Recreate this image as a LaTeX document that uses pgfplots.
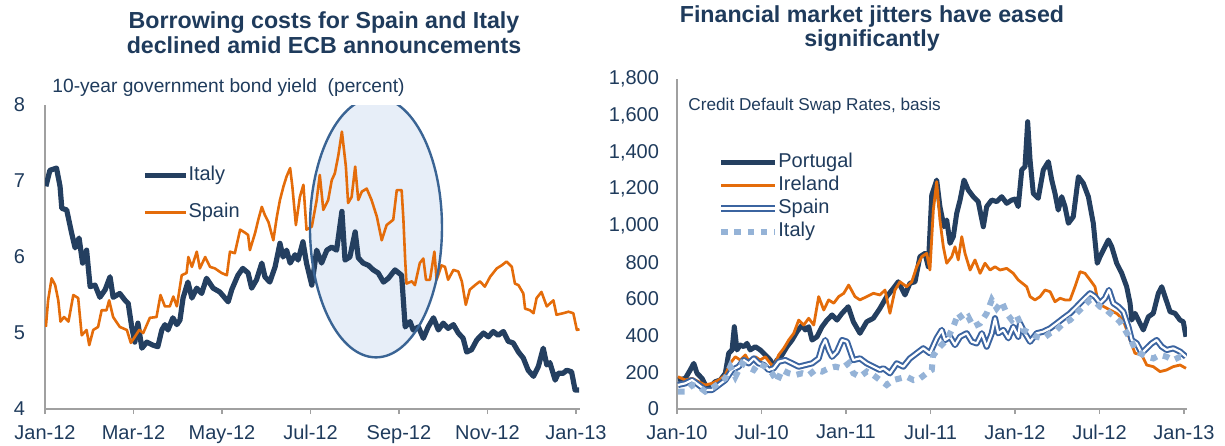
\documentclass[border=0pt]{standalone}
\usepackage{fontspec}
\setmainfont{Liberation Sans}
\usepackage{pgfplots}
\pgfplotsset{compat=1.18}
\definecolor{navy}{HTML}{243F60}
\definecolor{orng}{HTML}{E46C0A}
\definecolor{spblue}{HTML}{3B64A0}
\definecolor{ltblue}{HTML}{95B3D7}
\definecolor{txt}{HTML}{1F3B5C}
\definecolor{axgray}{HTML}{A0A0A0}
\definecolor{ellfill}{HTML}{E7EEF8}
\definecolor{ellline}{HTML}{3A6494}

\pgfplotsset{
  cdsaxis/.style={
    scale only axis,
    axis x line=bottom, axis y line=left,
    axis line style={-, axgray, line width=0.6pt},
    tick align=outside,
    xtick style={axgray, line width=0.6pt},
    major tick length=2.5pt,
    ytick style={draw=none},
    tick label style={font=\fontsize{10}{12}\selectfont, text=txt},
    /pgf/number format/assume math mode=true,
    /pgf/number format/1000 sep={,},
    xticklabel style={yshift=-2pt},
    legend cell align=left,
    legend image code/.code={\draw[#1] (0pt,0pt) -- (20.5pt,0pt);},
    legend style={draw=none, fill=none, inner sep=0pt,
      font=\fontsize{10}{12}\selectfont, text=txt,
      nodes={inner sep=0pt, text height=7.2pt, text depth=2pt},
      /tikz/every even column/.append style={column sep=1.5pt}},
  },
}

\begin{document}
\begin{tikzpicture}
\path[use as bounding box] (0,0) rectangle (612.5pt,222.5pt);

% titles
\node[anchor=base, text=txt, font=\fontsize{11.6}{13}\selectfont\bfseries] at (162pt,208pt) {Borrowing costs for Spain and Italy};
\node[anchor=base, text=txt, font=\fontsize{11.6}{13}\selectfont\bfseries] at (162pt,195.5pt) {declined amid ECB announcements};
\node[anchor=base west, inner sep=0pt, text=txt, font=\fontsize{9.6}{11}\selectfont] at (26pt,176pt) {10-year government bond yield\ \ (percent)};

\node[anchor=base, text=txt, font=\fontsize{11.6}{13}\selectfont\bfseries] at (436pt,211pt) {Financial market jitters have eased};
\node[anchor=base, text=txt, font=\fontsize{11.6}{13}\selectfont\bfseries] at (436pt,199pt) {significantly};
\node[anchor=base west, inner sep=0pt, text=txt, font=\fontsize{8.6}{10}\selectfont] at (344pt,167pt) {Credit Default Swap Rates, basis};

% ---------------- left: bond yields ----------------
\begin{axis}[cdsaxis,
  at={(22.5pt,18pt)}, anchor=south west,
  width=267.7pt, height=152pt,
  xmin=0, xmax=12.1, ymin=4, ymax=8,
  xtick={0,2,4,6,8,10,12},
  xticklabels={Jan-12,Mar-12,May-12,Jul-12,Sep-12,Nov-12,Jan-13},
  ytick={4,5,6,7,8},
  yticklabel style={xshift=-4pt},
  legend style={at={(0.181,0.80)}, anchor=north west, row sep=9.3pt},
]
\fill[ellfill] (axis cs:7.48,6.39) ellipse [x radius=33pt, y radius=65pt];
\addplot[navy, line width=2.6pt, line join=round] coordinates {
(0.02,6.93) (0.11,7.14) (0.26,7.17) (0.34,6.93) (0.38,6.64) (0.49,6.62)
(0.60,6.32) (0.68,6.12) (0.77,6.25) (0.85,5.92) (0.94,6.09) (1.02,5.61)
(1.13,5.63) (1.24,5.47) (1.36,5.57) (1.47,5.74) (1.54,5.47) (1.69,5.52)
(1.81,5.43) (1.88,5.39) (1.96,5.08) (2.03,4.88) (2.10,5.13) (2.19,4.80)
(2.30,4.88) (2.44,4.84) (2.55,4.82) (2.64,5.04) (2.71,5.11) (2.78,5.04)
(2.89,5.20) (2.98,5.11) (3.05,5.17) (3.12,5.46) (3.23,5.67) (3.32,5.46)
(3.43,5.59) (3.54,5.52) (3.65,5.72) (3.80,5.59) (3.95,5.54) (4.14,5.41)
(4.22,5.57) (4.36,5.76) (4.47,5.85) (4.59,5.79) (4.67,5.59) (4.78,5.70)
(4.90,5.92) (4.97,5.74) (5.08,5.67) (5.20,5.87) (5.31,6.18) (5.38,6.00)
(5.46,6.09) (5.54,5.92) (5.65,6.03) (5.72,5.96) (5.83,6.20) (5.91,5.92)
(6.03,5.63) (6.14,6.09) (6.25,5.92) (6.37,6.09) (6.48,6.13) (6.59,6.09)
(6.71,6.60) (6.78,5.96) (6.89,6.00) (7.01,6.33) (7.08,5.99) (7.19,5.92)
(7.31,5.89) (7.42,5.83) (7.53,5.79) (7.65,5.67) (7.76,5.72) (7.91,5.83)
(8.06,5.76) (8.14,5.08) (8.25,5.15) (8.32,5.04) (8.44,5.08) (8.55,4.93)
(8.66,5.08) (8.78,5.20) (8.89,5.04) (9.00,5.13) (9.11,5.06) (9.23,5.11)
(9.34,5.00) (9.45,4.93) (9.53,4.75) (9.64,4.78) (9.76,4.91) (9.91,5.00)
(10.02,4.95) (10.13,5.02) (10.24,4.97) (10.36,5.02) (10.47,4.89) (10.58,4.87)
(10.70,4.75) (10.81,4.67) (10.92,4.51) (11.04,4.43) (11.15,4.56) (11.26,4.80)
(11.34,4.58) (11.41,4.61) (11.53,4.38) (11.60,4.47) (11.71,4.47) (11.79,4.51)
(11.90,4.49) (11.98,4.25) (12.07,4.25)
};
\addlegendentry{Italy}
\addplot[orng, line width=1.3pt, line join=round] coordinates {
(0.02,5.08) (0.07,5.43) (0.15,5.72) (0.23,5.63) (0.30,5.43) (0.35,5.15)
(0.43,5.21) (0.53,5.15) (0.64,5.50) (0.75,5.46) (0.83,4.97) (0.94,5.04)
(1.00,4.84) (1.09,5.04) (1.20,5.08) (1.28,5.30) (1.39,5.30) (1.45,5.43)
(1.54,5.21) (1.69,5.08) (1.85,5.04) (1.94,4.87) (2.03,4.95) (2.13,5.04)
(2.22,5.00) (2.37,5.20) (2.52,5.21) (2.61,5.50) (2.71,5.35) (2.82,5.35)
(2.90,5.48) (2.98,5.35) (3.09,5.76) (3.20,5.79) (3.24,6.00) (3.32,5.87)
(3.43,6.07) (3.50,5.85) (3.62,6.00) (3.73,5.87) (3.84,5.85) (3.99,5.79)
(4.11,5.76) (4.18,6.07) (4.29,6.05) (4.41,6.36) (4.52,6.32) (4.59,6.29)
(4.63,6.09) (4.75,6.32) (4.82,6.49) (4.90,6.66) (4.97,6.55) (5.05,6.46)
(5.16,6.22) (5.24,6.53) (5.31,6.75) (5.39,6.93) (5.46,7.06) (5.54,7.17)
(5.59,6.93) (5.67,6.42) (5.76,6.79) (5.84,6.95) (5.91,6.36) (6.03,6.40)
(6.14,6.75) (6.21,7.08) (6.29,6.62) (6.40,6.75) (6.48,7.01) (6.55,7.10)
(6.63,7.34) (6.71,7.65) (6.80,7.19) (6.85,6.71) (6.93,6.79) (7.01,7.19)
(7.08,6.75) (7.16,6.86) (7.27,6.90) (7.38,6.75) (7.50,6.53) (7.61,6.22)
(7.72,6.42) (7.87,6.49) (7.95,6.88) (8.06,6.88) (8.10,6.49) (8.14,5.96)
(8.17,5.65) (8.29,5.68) (8.36,5.63) (8.47,5.92) (8.55,5.98) (8.61,5.70)
(8.70,5.70) (8.80,6.07) (8.85,5.70) (8.96,5.89) (9.04,5.87) (9.11,5.70)
(9.23,5.83) (9.34,5.81) (9.42,5.68) (9.51,5.37) (9.60,5.57) (9.72,5.63)
(9.83,5.68) (9.94,5.61) (10.06,5.74) (10.21,5.85) (10.32,5.89) (10.43,5.94)
(10.55,5.87) (10.62,5.65) (10.70,5.63) (10.81,5.52) (10.85,5.32) (10.96,5.30)
(11.04,5.26) (11.11,5.46) (11.22,5.54) (11.34,5.35) (11.49,5.43) (11.56,5.24)
(11.71,5.26) (11.83,5.28) (11.94,5.26) (12.02,5.04) (12.08,5.05)
};
\addlegendentry{Spain}
\draw[ellline, line width=1.2pt] (axis cs:7.48,6.39) ellipse [x radius=33pt, y radius=65pt];
\end{axis}

% ---------------- right: CDS ----------------
\begin{axis}[cdsaxis,
  at={(338.5pt,18pt)}, anchor=south west,
  width=254.9pt, height=165pt,
  xmin=0, xmax=36.2, ymin=0, ymax=1800,
  xtick={0,6,12,18,24,30,36},
  xticklabels={Jan-10,Jul-10,Jan-11,Jul-11,Jan-12,Jul-12,Jan-13},
  ytick={0,200,...,1800},
  yticklabel style={xshift=-3pt},
  legend image code/.code={\draw[#1] (0pt,0pt) -- (27pt,0pt);},
  legend style={at={(0.080,0.776)}, anchor=north west, row sep=2.3pt},
]
\addplot[navy, line width=2.5pt, line join=round] coordinates {
(0.07,158) (0.59,167) (0.94,213) (1.19,249) (1.42,195) (1.78,167) (2.01,131)
(2.36,122) (2.72,149) (3.07,158) (3.43,195) (3.67,304) (3.91,322) (4.07,449)
(4.26,322) (4.49,349) (4.74,340) (4.97,358) (5.20,322) (5.56,340) (5.91,322)
(6.27,295) (6.62,267) (6.87,231) (7.10,267) (7.46,295) (7.81,340) (8.17,376)
(8.52,422) (8.88,458) (9.11,431) (9.35,449) (9.59,376) (9.94,394) (10.30,449)
(10.65,485) (11.01,513) (11.36,485) (11.72,522) (12.16,558) (12.52,476)
(12.99,413) (13.47,476) (13.94,495) (14.41,549) (14.89,613) (15.36,658)
(15.71,694) (16.19,622) (16.54,686) (16.90,694) (17.25,831) (17.61,849)
(17.84,776) (18.09,1167) (18.44,1249) (18.67,1104) (18.96,994) (19.15,1031)
(19.39,904) (19.62,940) (19.86,1067) (20.10,1140) (20.38,1249) (20.68,1195)
(21.04,1158) (21.39,1131) (21.75,994) (21.99,1104) (22.35,1140) (22.70,1131)
(23.06,1158) (23.41,1122) (23.77,1140) (24.00,1145) (24.23,1104) (24.48,1304)
(24.71,1322) (24.90,1567) (25.07,1358) (25.30,1176) (25.65,1149) (26.01,1304)
(26.37,1349) (26.61,1249) (26.84,1176) (27.07,1085) (27.32,1158) (27.55,1104)
(27.79,1013) (28.14,1049) (28.50,1267) (28.85,1231) (29.21,1158) (29.56,1013)
(29.84,795) (30.04,831) (30.39,885) (30.63,922) (30.87,885) (31.22,795)
(31.58,740) (31.93,667) (32.17,577) (32.29,485) (32.52,522) (32.76,485)
(33.11,431) (33.47,503) (33.82,522) (34.18,631) (34.42,667) (34.65,613)
(35.01,531) (35.36,522) (35.72,485) (35.95,476) (36.14,394)
};
\addlegendentry{Portugal}
\addplot[orng, line width=1.4pt, line join=round] coordinates {
(0.07,176) (0.59,158) (1.07,167) (1.54,149) (2.01,131) (2.49,140) (2.96,158)
(3.43,185) (3.78,249) (4.14,285) (4.49,267) (4.85,295) (5.20,249) (5.56,285)
(5.91,267) (6.27,285) (6.62,249) (6.87,231) (7.22,295) (7.58,331) (7.93,376)
(8.29,413) (8.64,485) (9.00,458) (9.35,495) (9.71,458) (10.06,613) (10.42,540)
(10.77,595) (11.13,577) (11.48,613) (11.84,631) (12.19,676) (12.64,613)
(12.99,595) (13.47,613) (13.94,631) (14.41,622) (14.77,649) (15.12,522)
(15.48,649) (15.83,694) (16.31,667) (16.67,694) (17.02,776) (17.38,831)
(17.73,849) (17.96,758) (18.20,1085) (18.44,1240) (18.67,1031) (18.91,885)
(19.15,795) (19.51,831) (19.74,885) (19.97,813) (20.22,940) (20.45,849)
(20.81,758) (21.16,813) (21.52,740) (21.87,795) (22.23,758) (22.58,776)
(22.94,758) (23.41,767) (23.88,740) (24.23,704) (24.83,667) (25.07,613)
(25.42,595) (25.78,613) (26.13,649) (26.49,640) (26.84,585) (27.20,604)
(27.55,595) (27.91,595) (28.26,667) (28.62,749) (28.97,740) (29.33,704)
(29.68,667) (29.92,577) (30.27,560) (30.75,540) (31.24,520) (31.69,485)
(32.17,376) (32.52,304) (33.00,295) (33.35,240) (33.82,231) (34.30,204)
(34.77,213) (35.24,231) (35.72,240) (36.14,222)
};
\addlegendentry{Ireland}
\addplot[spblue, line width=1pt, double=white, double distance=1.1pt, line join=round] coordinates {
(0.07,131) (0.59,140) (1.07,158) (1.54,131) (2.01,104) (2.49,104) (2.96,131)
(3.43,158) (3.91,213) (4.38,231) (4.74,267) (5.09,249) (5.45,276) (5.80,249)
(6.16,240) (6.51,213) (6.87,222) (7.22,258) (7.69,267) (8.17,249) (8.64,231)
(9.11,240) (9.59,249) (10.06,276) (10.30,340) (10.53,376) (10.77,322)
(11.01,285) (11.36,313) (11.72,376) (12.07,367) (12.52,267) (12.99,276)
(13.47,249) (13.94,231) (14.41,213) (14.65,222) (15.12,195) (15.60,249)
(16.07,231) (16.54,276) (17.02,304) (17.49,331) (17.96,304) (18.44,386)
(18.80,431) (19.03,376) (19.39,394) (19.74,349) (20.10,394) (20.57,413)
(20.93,367) (21.28,358) (21.64,413) (21.99,340) (22.35,413) (22.58,495)
(22.81,413) (23.17,431) (23.53,386) (23.88,449) (24.23,394) (24.36,467)
(24.71,413) (25.07,367) (25.54,413) (26.01,422) (26.49,440) (26.96,467)
(27.43,495) (27.91,522) (28.38,558) (28.85,595) (29.33,631) (29.68,613)
(30.04,577) (30.39,604) (30.67,649) (30.98,577) (31.34,558) (31.69,531)
(32.05,449) (32.29,376) (32.64,358) (33.00,304) (33.35,331) (33.71,358)
(34.06,376) (34.42,340) (34.77,322) (35.24,331) (35.72,313) (36.14,285)
};
\addlegendentry{Spain}
\addplot[ltblue, line width=3pt, dash pattern=on 3.3pt off 3.3pt] coordinates {
(0.07,95) (0.59,95) (1.07,131) (1.54,122) (2.01,95) (2.49,113) (2.96,140)
(3.43,167) (3.78,231) (4.14,176) (4.62,249) (4.97,231) (5.45,213) (5.80,249)
(6.27,231) (6.75,195) (7.10,149) (7.46,213) (7.93,195) (8.40,185) (8.88,195)
(9.35,185) (9.82,213) (10.30,204) (10.77,222) (11.24,231) (11.72,222)
(12.19,250) (12.52,195) (12.99,176) (13.47,204) (13.94,185) (14.41,158)
(14.89,131) (15.36,158) (15.83,167) (16.31,176) (16.78,158) (17.25,167)
(17.73,195) (18.09,213) (18.18,290) (18.67,340) (19.15,376) (19.62,449)
(19.98,522) (20.33,485) (20.68,503) (21.04,449) (21.52,467) (21.99,522)
(22.35,595) (22.70,549) (23.06,585) (23.41,522) (23.77,485) (24.12,510)
(24.59,431) (25.07,413) (25.54,394) (26.01,385) (26.49,413) (26.96,431)
(27.43,467) (27.91,485) (28.38,522) (28.85,558) (29.33,595) (29.68,585)
(30.04,558) (30.39,549) (30.75,522) (31.10,503) (31.45,476) (31.81,431)
(32.17,385) (32.52,331) (32.88,304) (33.35,285) (33.82,276) (34.30,295)
(34.77,285) (35.24,267) (35.72,285) (36.14,276)
};
\addlegendentry{Italy}
\end{axis}
\end{tikzpicture}
\end{document}
